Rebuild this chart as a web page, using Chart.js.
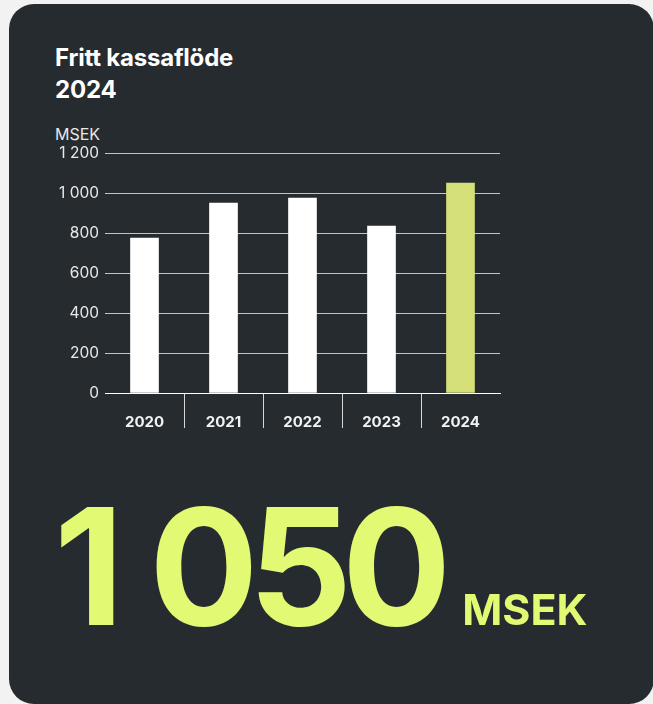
<!DOCTYPE html>
<html lang="sv">
<head>
<meta charset="utf-8">
<title>Fritt kassaflöde 2024</title>
<script src="https://cdn.jsdelivr.net/npm/chart.js@4.4.1/dist/chart.umd.min.js"></script>
<style>
  html, body {
    margin: 0;
    padding: 0;
    width: 653px;
    height: 704px;
    overflow: hidden;
    background: #f2f2f2;
    font-family: 'Inter', 'Noto Sans', sans-serif;
  }
  .card {
    position: absolute;
    left: 9px;
    top: 4px;
    width: 645px;
    height: 700px;
    border-radius: 25px;
    background: #262b2f;
  }
  .title {
    position: absolute;
    left: 55px;
    top: 42px;
    color: #ffffff;
    font-size: 24px;
    font-weight: 700;
    line-height: 32px;
    letter-spacing: -0.2px;
  }
  .unit-label {
    position: absolute;
    left: 55px;
    top: 126px;
    color: #e8e8e8;
    font-size: 16px;
    line-height: 16px;
  }
  .big {
    position: absolute;
    left: 54px;
    top: 485px;
    color: #e1f973;
    font-weight: 700;
    line-height: 162px;
    white-space: nowrap;
  }
  .big .num {
    font-size: 162px;
    letter-spacing: -10px;
    word-spacing: 7px;
  }
  .big .unit {
    font-size: 43px;
    margin-left: 21px;
  }
  .chart-box {
    position: absolute;
    left: 0;
    top: 0;
    width: 653px;
    height: 704px;
  }
</style>
</head>
<body>
<div class="card"></div>
<div class="title">Fritt kassaflöde<br>2024</div>
<div class="unit-label">MSEK</div>
<div class="chart-box"><canvas id="cashFlowChart"></canvas></div>
<div class="big"><span class="num">1 050</span><span class="unit">MSEK</span></div>

<script>
const years = ['2020', '2021', '2022', '2023', '2024'];
const freeCashFlow = [775, 950, 975, 835, 1050];
const barColors = ['#ffffff', '#ffffff', '#ffffff', '#ffffff', '#d5e178'];
const yTicks = [0, 200, 400, 600, 800, 1000, 1200];

function formatThousands(value) {
  return String(value).replace(/\B(?=(\d{3})+(?!\d))/g, ' ');
}

const canvas = document.getElementById('cashFlowChart');

new Chart(canvas.getContext('2d'), {
  type: 'bar',
  data: {
    labels: years,
    datasets: [
      {
        data: freeCashFlow,
        backgroundColor: barColors,
        borderWidth: 0,
        barThickness: 28
      }
    ]
  },
  options: {
    responsive: true,
    maintainAspectRatio: false,
    animation: false,
    layout: {
      padding: { left: 55, right: 153, top: 153, bottom: 271 }
    },
    plugins: {
      legend: { display: false },
      tooltip: { enabled: false }
    },
    scales: {
      x: {
        afterFit(scale) {
          scale.height = 40;
        },
        border: {
          color: '#ffffff',
          width: 1
        },
        grid: {
          drawOnChartArea: false,
          drawTicks: true,
          tickLength: 35,
          color(context) {
            // only the separators between years, not the outer edges
            if (context.type !== 'tick' || context.index === 0) return 'rgba(0,0,0,0)';
            return '#d6d7d8';
          }
        },
        ticks: {
          color: '#f2f2f2',
          padding: -15,
          font: {
            family: "'Inter', sans-serif",
            size: 15,
            weight: 700
          }
        }
      },
      y: {
        min: 0,
        max: 1200,
        afterFit(scale) {
          scale.width = 50;
        },
        afterBuildTicks(scale) {
          scale.ticks = yTicks.map((value) => ({ value }));
        },
        border: { display: false },
        grid: {
          color: 'rgba(255, 255, 255, 0.72)',
          drawTicks: false
        },
        ticks: {
          color: '#e8e8e8',
          padding: 6,
          font: {
            family: "'Inter', sans-serif",
            size: 15.5
          },
          callback(value) {
            return formatThousands(value);
          }
        }
      }
    }
  }
});
</script>
</body>
</html>
